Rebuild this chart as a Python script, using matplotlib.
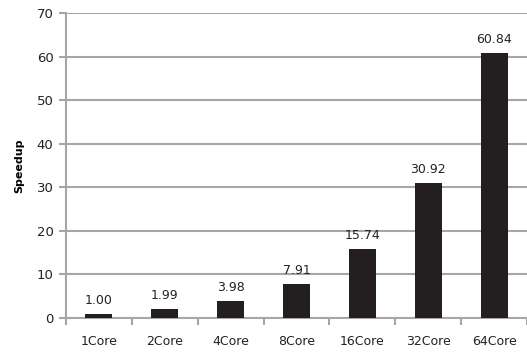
import matplotlib
matplotlib.use("Agg")
import matplotlib.pyplot as plt
import numpy as np

categories = ["1Core", "2Core", "4Core", "8Core", "16Core", "32Core", "64Core"]
speedup = [1.00, 1.99, 3.98, 7.91, 15.74, 30.92, 60.84]
labels = ["1.00", "1.99", "3.98", "7.91", "15.74", "30.92", "60.84"]

fig = plt.figure(figsize=(5.27, 3.52), dpi=100)
ax = fig.add_axes([66/527, 34/352, 461/527, 305/352])

x = np.arange(len(categories))
ax.bar(x, speedup, width=0.41, color="#231f20", zorder=3)
for xi, v, lab in zip(x, speedup, labels):
    ax.text(xi, v + 1.6, lab, ha="center", va="bottom", fontsize=9, color="#222222")

ax.set_xlim(-0.5, len(categories) - 0.5)
ax.set_ylim(0, 70)
ax.set_yticks(np.arange(0, 71, 10))
ax.yaxis.grid(True, color="#a6a6a6", linewidth=1.5, zorder=0)
ax.set_xticks(np.arange(-0.5, len(categories), 1.0), minor=False)
ax.set_xticklabels([])
ax.set_xticks(x, minor=True)
ax.set_xticklabels(categories, minor=True, fontsize=9, color="#222222")
ax.tick_params(axis="x", which="minor", length=0, pad=12)
ax.tick_params(axis="x", which="major", length=5, width=1.5, color="#a6a6a6", direction="out")
ax.tick_params(axis="y", length=5, width=1.5, color="#a6a6a6", labelsize=9.5, labelcolor="#222222", pad=4)

for s in ["top", "right"]:
    ax.spines[s].set_visible(False)
for s in ["left", "bottom"]:
    ax.spines[s].set_color("#a6a6a6")
    ax.spines[s].set_linewidth(1.5)

ax.set_ylabel("Speedup", fontsize=8, fontweight="bold", labelpad=9)

fig.savefig("out.png", dpi=100)
